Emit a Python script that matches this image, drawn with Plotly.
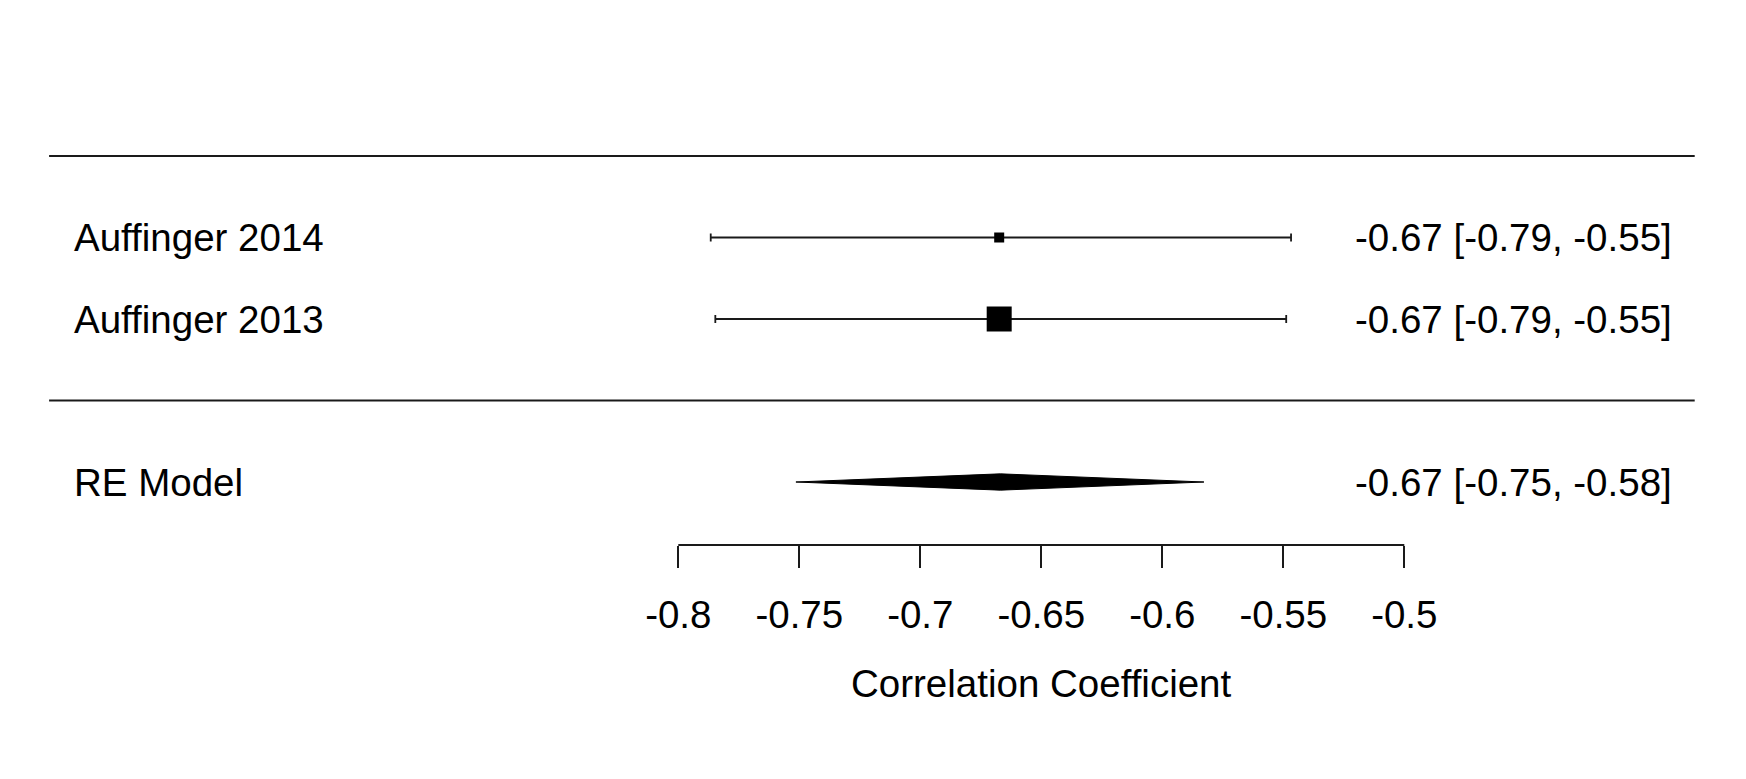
import plotly.graph_objects as go

# ---- data ----
studies = ["Auffinger 2014", "Auffinger 2013"]
study_rows = [2, 1]
estimates = [-0.6674, -0.6674]
ci_lower = [-0.7866, -0.7847]
ci_upper = [-0.5468, -0.5488]
marker_sizes = [10, 25]
study_labels = ["-0.67 [-0.79, -0.55]", "-0.67 [-0.79, -0.55]"]

model_name = "RE Model"
model_row = -1
model_est = -0.6669
model_lower = -0.7514
model_upper = -0.5828
model_label = "-0.67 [-0.75, -0.58]"

tick_vals = [-0.8, -0.75, -0.7, -0.65, -0.6, -0.55, -0.5]
tick_text = ["-0.8", "-0.75", "-0.7", "-0.65", "-0.6", "-0.55", "-0.5"]
axis_title = "Correlation Coefficient"

# page has an 8px body margin; figure sized to fit inside it
W, H = 1730, 763
PLOT_H = 537
FONT = "Liberation Sans, Arial, sans-serif"
FS = 38.5

x_range = [-1.07698, -0.36211]
y_range = [-1.773, 4.816]
label_x = -1.05054
right_x = -0.38872
line_x0, line_x1 = -1.0600, -0.3800

fig = go.Figure()

# study CIs
fig.add_trace(go.Scatter(
    x=estimates, y=study_rows, mode="markers",
    marker=dict(symbol="square", size=2, color="black", opacity=1,
                line=dict(width=0)),
    error_x=dict(type="data", symmetric=False,
                 array=[u - e for u, e in zip(ci_upper, estimates)],
                 arrayminus=[e - l for l, e in zip(ci_lower, estimates)],
                 color="#1a1a1a", thickness=1.8, width=4),
    hoverinfo="skip", showlegend=False))

# study squares
fig.add_trace(go.Scatter(
    x=estimates, y=study_rows, mode="markers",
    marker=dict(symbol="square", size=marker_sizes, color="#000000", opacity=1,
                line=dict(width=0, color="#000000")),
    hoverinfo="skip", showlegend=False))

# RE diamond
h = 0.1
fig.add_trace(go.Scatter(
    x=[model_lower, model_est, model_upper, model_est, model_lower],
    y=[model_row, model_row + h, model_row, model_row - h, model_row],
    mode="lines", fill="toself", fillcolor="black",
    line=dict(color="black", width=1),
    hoverinfo="skip", showlegend=False))

# horizontal separator lines
for yy in [3, 0]:
    fig.add_shape(type="line", xref="x", yref="y", x0=line_x0, x1=line_x1,
                  y0=yy, y1=yy, line=dict(color="#1a1a1a", width=1.8))

# x axis line restricted to tick range
fig.add_shape(type="line", xref="x", yref="paper", x0=tick_vals[0], x1=tick_vals[-1],
              y0=0, y1=0, line=dict(color="#1a1a1a", width=1.8))

annotations = []
for name, yy, lab in zip(studies, study_rows, study_labels):
    annotations.append(dict(x=label_x, y=yy, xref="x", yref="y", text=name,
                            showarrow=False, xanchor="left", yanchor="middle",
                            font=dict(family=FONT, size=FS, color="black")))
    annotations.append(dict(x=right_x, y=yy, xref="x", yref="y", text=lab,
                            showarrow=False, xanchor="right", yanchor="middle",
                            font=dict(family=FONT, size=FS, color="black")))
annotations.append(dict(x=label_x, y=model_row, xref="x", yref="y", text=model_name,
                        showarrow=False, xanchor="left", yanchor="middle",
                        font=dict(family=FONT, size=FS, color="black")))
annotations.append(dict(x=right_x, y=model_row, xref="x", yref="y", text=model_label,
                        showarrow=False, xanchor="right", yanchor="middle",
                        font=dict(family=FONT, size=FS, color="black")))
annotations.append(dict(x=(tick_vals[0] + tick_vals[-1]) / 2, y=-138.5 / PLOT_H,
                        xref="x", yref="paper", text=axis_title,
                        showarrow=False, xanchor="center", yanchor="middle",
                        font=dict(family=FONT, size=FS, color="black")))

fig.update_layout(
    width=W, height=H,
    margin=dict(l=0, r=0, t=0, b=H - PLOT_H, pad=0),
    paper_bgcolor="white", plot_bgcolor="white",
    annotations=annotations,
    xaxis=dict(range=x_range, showgrid=False, zeroline=False, showline=False,
               tickmode="array", tickvals=tick_vals, ticktext=tick_text,
               ticks="outside", ticklen=22, tickwidth=1.8, tickcolor="#1a1a1a",
               ticklabelstandoff=14,
               tickfont=dict(family=FONT, size=FS, color="black"),
               fixedrange=True),
    yaxis=dict(range=y_range, visible=False, fixedrange=True),
    font=dict(family=FONT, color="black"),
)

fig.write_html("out.html", config={"displayModeBar": False})
